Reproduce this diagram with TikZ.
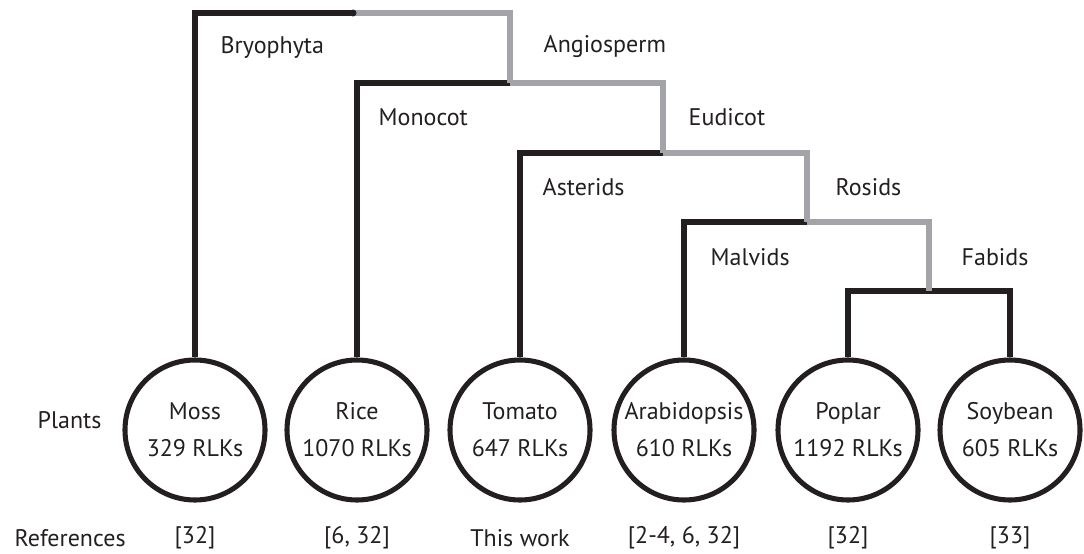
\documentclass[tikz,border=0pt]{standalone}
\usepackage{fontspec}
\setmainfont{PT Sans}
\usetikzlibrary{positioning}
\definecolor{inkblack}{HTML}{231F20}
\definecolor{inkgray}{HTML}{A2A4A7}
\tikzset{
	plant/.style={draw=inkblack, line width=3.8pt, circle, minimum size=105pt, inner sep=0pt, align=center, text=inkblack, font=\fontsize{18}{27.75}\selectfont},
	clade/.style={anchor=west, text=inkblack, font=\fontsize{18}{22}\selectfont},
	refnote/.style={text=inkblack, font=\fontsize{18}{22}\selectfont},
	blackline/.style={draw=inkblack, line width=3.8pt},
	grayline/.style={draw=inkgray, line width=3.8pt}
}

\begin{document}
\begin{tikzpicture}[x=0.75pt, y=-0.75pt]
		%%%%% START %%%%%
		\useasboundingbox (0, 0) rectangle (1084, 553);
		
		% plants
		\node[plant] (moss) at (195, 430) {Moss\\329 RLKs};
		\node[plant] (rice) at (357, 430) {Rice\\1070 RLKs};
		\node[plant] (tomato) at (520, 430) {Tomato\\647 RLKs};
		\node[plant] (arabid) at (684, 430) {Arabidopsis\\610 RLKs};
		\node[plant] (poplar) at (848, 430) {Poplar\\1192 RLKs};
		\node[plant] (soybean) at (1010, 430) {Soybean\\605 RLKs};
		
		% junctions
		\coordinate (root) at (353, 13);
		\coordinate (angio) at (510, 83);
		\coordinate (eudi) at (663, 153);
		\coordinate (rosid) at (807, 222);
		\coordinate (fabid) at (929, 291);
		
		\draw[blackline] (moss.north) |- (root);
		\draw[blackline] (rice.north) |- (angio);
		\draw[blackline] (tomato.north) |- (eudi);
		\draw[blackline] (arabid.north) |- (rosid);
		\draw[blackline] (poplar.north) |- (fabid) -| (soybean.north);
		
		\draw[grayline] (root) -| (angio);
		\draw[grayline] (angio) -| (eudi);
		\draw[grayline] (eudi) -| (rosid);
		\draw[grayline] (rosid) -| (fabid);
		
		\fill[inkblack] (root) circle (3.5);
		
		% clade names
		\node[clade] (bryo) at (216, 47) {Bryophyta};
		\node[clade] (angiol) at (539, 47) {Angiosperm};
		\node[clade] (mono) at (374, 117) {Monocot};
		\node[clade] (eudil) at (684, 117) {Eudicot};
		\node[clade] (aster) at (538, 187) {Asterids};
		\node[clade] (rosidl) at (831, 187) {Rosids};
		\node[clade] (malv) at (706, 257) {Malvids};
		\node[clade] (fabidl) at (957, 257) {Fabids};
		
		% rows
		\node[clade] (plants) at (33, 420) {Plants};
		\node[clade] (refs) at (10, 538) {References};
		\node[refnote] (rmoss) at (moss |- refs) {[32]};
		\node[refnote] (rrice) at (rice |- refs) {[6, 32]};
		\node[refnote] (rtomato) at (tomato |- refs) {This work};
		\node[refnote] (rarabid) at (arabid |- refs) {[2-4, 6, 32]};
		\node[refnote] (rpoplar) at (poplar |- refs) {[32]};
		\node[refnote] (rsoybean) at (soybean |- refs) {[33]};
		
		%%%%% END %%%%%
\end{tikzpicture}
\end{document}
